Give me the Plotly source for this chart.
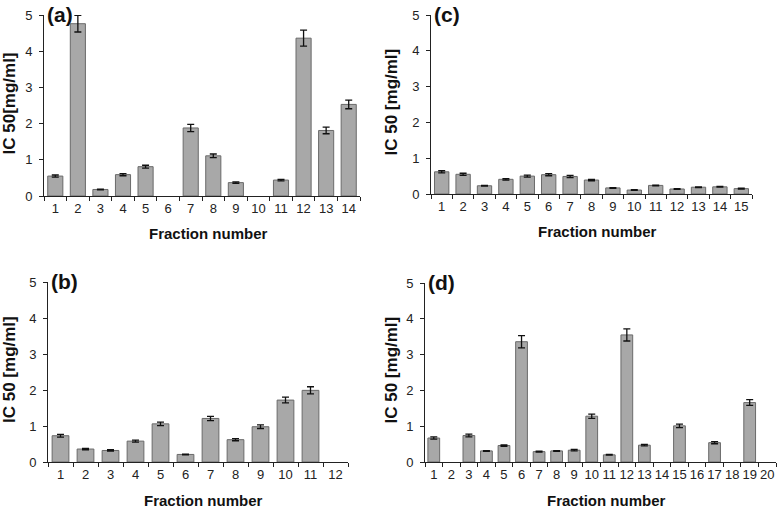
import plotly.graph_objects as go

# ---- data ----
a_frac = [str(i) for i in range(1, 15)]
a_val = [0.55, 4.76, 0.18, 0.59, 0.81, None, 1.88, 1.11, 0.37, None, 0.44, 4.36, 1.81, 2.53]
a_err = [0.03, 0.23, 0.01, 0.03, 0.04, None, 0.10, 0.05, 0.02, None, 0.02, 0.22, 0.09, 0.12]

b_frac = [str(i) for i in range(1, 13)]
b_val = [0.73, 0.36, 0.32, 0.58, 1.06, 0.21, 1.21, 0.62, 0.98, 1.72, 1.99, None]
b_err = [0.04, 0.02, 0.02, 0.03, 0.05, 0.01, 0.06, 0.03, 0.05, 0.08, 0.10, None]

c_frac = [str(i) for i in range(1, 16)]
c_val = [0.62, 0.55, 0.23, 0.41, 0.50, 0.54, 0.49, 0.39, 0.17, 0.11, 0.24, 0.14, 0.19, 0.20, 0.15]
c_err = [0.03, 0.03, 0.01, 0.02, 0.03, 0.03, 0.03, 0.02, 0.01, 0.01, 0.01, 0.01, 0.01, 0.01, 0.01]

d_frac = [str(i) for i in range(1, 21)]
d_val = [0.67, None, 0.74, 0.31, 0.46, 3.36, 0.29, 0.31, 0.33, 1.28, 0.20, 3.55, 0.47, None, 1.01, None, 0.54, None, 1.66, None]
d_err = [0.03, None, 0.04, 0.01, 0.02, 0.17, 0.01, 0.01, 0.02, 0.06, 0.01, 0.17, 0.02, None, 0.05, None, 0.03, None, 0.08, None]

y_ticks = [0, 1, 2, 3, 4, 5]

panels = [
    # label, x, y, err, xdomain, ydomain, ytitle
    ("(a)", a_frac, a_val, a_err, [44/777, 360/777], [1-196/510, 1-15/510], "IC 50[mg/ml]"),
    ("(c)", c_frac, c_val, c_err, [431/777, 752/777], [1-194/510, 1-15/510], "IC 50 [mg/ml]"),
    ("(b)", b_frac, b_val, b_err, [48/777, 348/777], [1-462/510, 1-282/510], "IC 50 [mg/ml]"),
    ("(d)", d_frac, d_val, d_err, [425/777, 776/777], [1-462/510, 1-283/510], "IC 50 [mg/ml]"),
]

FONT = "Liberation Sans, Arial, sans-serif"
fig = go.Figure()
annotations = []
layout = {}

for i, (lab, xs, ys, es, xd, yd, ytitle) in enumerate(panels):
    n = "" if i == 0 else str(i + 1)
    xa, ya = "x" + n, "y" + n
    fig.add_trace(go.Bar(
        x=xs, y=ys, xaxis=xa, yaxis=ya,
        marker=dict(color="#a8a8a8", line=dict(color="#6a6a6a", width=1)),
        error_y=dict(type="data", array=es, color="#111111", thickness=1.3, width=3.5),
        showlegend=False, hoverinfo="x+y",
    ))
    layout["xaxis" + n] = dict(
        domain=xd, anchor=ya, type="category", tickson="boundaries",
        ticks="outside", ticklen=4, tickcolor="#222", tickwidth=1,
        showline=True, linecolor="#222", linewidth=1, showgrid=False,
        tickangle=0, automargin=False,
        tickfont=dict(family=FONT, size=13, color="#222"),
        fixedrange=True,
    )
    layout["yaxis" + n] = dict(
        domain=yd, anchor=xa, range=[0, 5], tickvals=y_ticks,
        ticks="outside", ticklen=4, tickcolor="#222", tickwidth=1,
        showline=True, linecolor="#222", linewidth=1, showgrid=False, zeroline=False,
        automargin=False, ticklabelstandoff=4,
        tickfont=dict(family=FONT, size=13, color="#222"),
        fixedrange=True,
    )
    # panel label
    annotations.append(dict(
        text="<b>%s</b>" % lab, xref="paper", yref="paper",
        x=xd[0] + 1/777, y=yd[1] + 14/510, xanchor="left", yanchor="top",
        showarrow=False, font=dict(family=FONT, size=21, color="#111"),
    ))
    # x title
    annotations.append(dict(
        text="<b>Fraction number</b>", xref="paper", yref="paper",
        x=(xd[0] + xd[1]) / 2 + 6/777, y=yd[0] - 38/510, xanchor="center", yanchor="middle",
        showarrow=False, font=dict(family=FONT, size=15, color="#111"),
    ))

# y titles
for (lab, xs, ys, es, xd, yd, ytitle), xp in zip(panels, [9, 391, 9, 391]):
    annotations.append(dict(
        text="<b>%s</b>" % ytitle, xref="paper", yref="paper",
        x=xp/777, y=(yd[0] + yd[1]) / 2 + 2/510, xanchor="center", yanchor="middle",
        textangle=-90, showarrow=False, font=dict(family=FONT, size=17, color="#111"),
    ))

fig.update_layout(
    width=777, height=510, margin=dict(l=0, r=0, t=0, b=0),
    paper_bgcolor="white", plot_bgcolor="white",
    bargap=0.33, annotations=annotations, **layout,
)

fig.write_html(
    "out.html",
    config={"displayModeBar": False},
    post_script="document.body.style.margin='0';document.body.style.overflow='hidden';",
)
